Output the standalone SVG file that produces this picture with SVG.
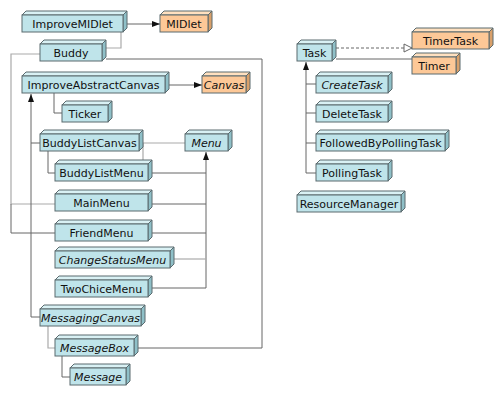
<svg xmlns="http://www.w3.org/2000/svg" width="500" height="400" viewBox="0 0 500 400">
<style>
.f{stroke:#5a6a6e;stroke-width:1}
.b .fr{fill:#bfe4ea}.b .tp{fill:#d9f1f4}.b .sd{fill:#8fc0c8}
.o .fr{fill:#fdc897}.o .tp{fill:#ffe0bf}.o .sd{fill:#d9a06a}
text{font-family:"DejaVu Sans","Liberation Sans",sans-serif;font-size:11px;fill:#111;text-anchor:middle}
.i{font-style:italic}
.c{fill:none;stroke:#666;stroke-width:1}
.g{fill:none;stroke:#aaa;stroke-width:1.2}
</style>
<defs>
<marker id="fa" viewBox="0 0 8 8" refX="8" refY="4" markerWidth="8" markerHeight="8" markerUnits="userSpaceOnUse" orient="auto"><path d="M0,1 L8,4 L0,7 Z" fill="#111"/></marker>
<marker id="ha" viewBox="0 0 10 10" refX="9" refY="5" markerWidth="10" markerHeight="10" markerUnits="userSpaceOnUse" orient="auto"><path d="M1,1 L9,5 L1,9 Z" fill="#fff" stroke="#666"/></marker>
</defs>
<g id="connectors">
<path class="g" d="M121,31 V48 H106"/>
<path class="g" d="M40,54 H11 V204 H55"/>
<path class="c" d="M11,204 V233 H55"/>
<path class="c" d="M106,59 H262 V348 H138"/>
<path class="c" d="M127,24 H160" marker-end="url(#fa)"/>
<path class="c" d="M169,85 H202" marker-end="url(#fa)"/>
<path class="c" d="M54,93 V113 H62"/>
<path class="c" d="M31,317 V94" marker-end="url(#fa)"/>
<path class="c" d="M31,143 H40 M31,317 H40"/>
<path class="g" d="M143,143 H185 M143,143 V163"/>
<path class="c" d="M48,151 V173 H55"/>
<path class="c" d="M206,288 V152" marker-end="url(#fa)"/>
<path class="c" d="M152,173 H206 M152,204 H206 M152,233 H206 M152,288 H206"/>
<path class="g" d="M174,259 H206"/>
<path class="g" d="M48,326 V348 H55"/>
<path class="c" d="M62,356 V377 H70"/>
<path class="c" d="M336,48 H412" stroke-dasharray="3,2" marker-end="url(#ha)"/>
<path class="c" d="M336,59 H412"/>
<path class="c" d="M306,173 V62" marker-end="url(#fa)"/>
<path class="c" d="M306,84 H316 M306,113 H316 M306,143 H316 M306,173 H316"/>
</g>
<g id="ImproveMIDlet" class="b"><path class="f tp" d="M22,15 L26,11 H127 L123,15 Z"/><path class="f sd" d="M123,15 L127,11 V28 L123,32 Z"/><rect class="f fr" x="22" y="15" width="101" height="17"/><text x="72.5" y="27.5">ImproveMIDlet</text></g>
<g id="MIDlet" class="o"><path class="f tp" d="M160,15 L164,11 H212 L208,15 Z"/><path class="f sd" d="M208,15 L212,11 V28 L208,32 Z"/><rect class="f fr" x="160" y="15" width="48" height="17"/><text x="184" y="27.5">MIDlet</text></g>
<g id="Buddy" class="b"><path class="f tp" d="M40,44 L44,40 H106 L102,44 Z"/><path class="f sd" d="M102,44 L106,40 V57 L102,61 Z"/><rect class="f fr" x="40" y="44" width="62" height="17"/><text x="71" y="56.5">Buddy</text></g>
<g id="ImproveAbstractCanvas" class="b"><path class="f tp" d="M22,76 L26,72 H169 L165,76 Z"/><path class="f sd" d="M165,76 L169,72 V89 L165,93 Z"/><rect class="f fr" x="22" y="76" width="143" height="17"/><text x="93.5" y="88.5">ImproveAbstractCanvas</text></g>
<g id="Canvas" class="o"><path class="f tp" d="M202,76 L206,72 H250 L246,76 Z"/><path class="f sd" d="M246,76 L250,72 V89 L246,93 Z"/><rect class="f fr" x="202" y="76" width="44" height="17"/><text class="i" x="224" y="88.5">Canvas</text></g>
<g id="Ticker" class="b"><path class="f tp" d="M62,105 L66,101 H112 L108,105 Z"/><path class="f sd" d="M108,105 L112,101 V118 L108,122 Z"/><rect class="f fr" x="62" y="105" width="46" height="17"/><text x="85" y="117.5">Ticker</text></g>
<g id="BuddyListCanvas" class="b"><path class="f tp" d="M40,134 L44,130 H143 L139,134 Z"/><path class="f sd" d="M139,134 L143,130 V147 L139,151 Z"/><rect class="f fr" x="40" y="134" width="99" height="17"/><text x="89.5" y="146.5">BuddyListCanvas</text></g>
<g id="Menu" class="b"><path class="f tp" d="M185,134 L189,130 H232 L228,134 Z"/><path class="f sd" d="M228,134 L232,130 V147 L228,151 Z"/><rect class="f fr" x="185" y="134" width="43" height="17"/><text class="i" x="206.5" y="146.5">Menu</text></g>
<g id="BuddyListMenu" class="b"><path class="f tp" d="M55,164 L59,160 H152 L148,164 Z"/><path class="f sd" d="M148,164 L152,160 V177 L148,181 Z"/><rect class="f fr" x="55" y="164" width="93" height="17"/><text x="101.5" y="176.5">BuddyListMenu</text></g>
<g id="MainMenu" class="b"><path class="f tp" d="M55,194 L59,190 H152 L148,194 Z"/><path class="f sd" d="M148,194 L152,190 V207 L148,211 Z"/><rect class="f fr" x="55" y="194" width="93" height="17"/><text x="101.5" y="206.5">MainMenu</text></g>
<g id="FriendMenu" class="b"><path class="f tp" d="M55,224 L59,220 H152 L148,224 Z"/><path class="f sd" d="M148,224 L152,220 V237 L148,241 Z"/><rect class="f fr" x="55" y="224" width="93" height="17"/><text x="101.5" y="236.5">FriendMenu</text></g>
<g id="ChangeStatusMenu" class="b"><path class="f tp" d="M55,251 L59,247 H174 L170,251 Z"/><path class="f sd" d="M170,251 L174,247 V264 L170,268 Z"/><rect class="f fr" x="55" y="251" width="115" height="17"/><text class="i" x="112.5" y="263.5">ChangeStatusMenu</text></g>
<g id="TwoChiceMenu" class="b"><path class="f tp" d="M55,280 L59,276 H152 L148,280 Z"/><path class="f sd" d="M148,280 L152,276 V293 L148,297 Z"/><rect class="f fr" x="55" y="280" width="93" height="17"/><text x="101.5" y="292.5">TwoChiceMenu</text></g>
<g id="MessagingCanvas" class="b"><path class="f tp" d="M40,309 L44,305 H145 L141,309 Z"/><path class="f sd" d="M141,309 L145,305 V322 L141,326 Z"/><rect class="f fr" x="40" y="309" width="101" height="17"/><text class="i" x="90.5" y="321.5">MessagingCanvas</text></g>
<g id="MessageBox" class="b"><path class="f tp" d="M55,339 L59,335 H138 L134,339 Z"/><path class="f sd" d="M134,339 L138,335 V352 L134,356 Z"/><rect class="f fr" x="55" y="339" width="79" height="17"/><text class="i" x="94.5" y="351.5">MessageBox</text></g>
<g id="Message" class="b"><path class="f tp" d="M70,368 L74,364 H130 L126,368 Z"/><path class="f sd" d="M126,368 L130,364 V381 L126,385 Z"/><rect class="f fr" x="70" y="368" width="56" height="17"/><text class="i" x="98" y="380.5">Message</text></g>
<g id="Task" class="b"><path class="f tp" d="M297,44 L301,40 H336 L332,44 Z"/><path class="f sd" d="M332,44 L336,40 V57 L332,61 Z"/><rect class="f fr" x="297" y="44" width="35" height="17"/><text x="314.5" y="56.5">Task</text></g>
<g id="TimerTask" class="o"><path class="f tp" d="M412,32 L416,28 H493 L489,32 Z"/><path class="f sd" d="M489,32 L493,28 V45 L489,49 Z"/><rect class="f fr" x="412" y="32" width="77" height="17"/><text x="450.5" y="44.5">TimerTask</text></g>
<g id="Timer" class="o"><path class="f tp" d="M412,57 L416,53 H460 L456,57 Z"/><path class="f sd" d="M456,57 L460,53 V70 L456,74 Z"/><rect class="f fr" x="412" y="57" width="44" height="17"/><text x="434" y="69.5">Timer</text></g>
<g id="CreateTask" class="b"><path class="f tp" d="M316,76 L320,72 H392 L388,76 Z"/><path class="f sd" d="M388,76 L392,72 V89 L388,93 Z"/><rect class="f fr" x="316" y="76" width="72" height="17"/><text class="i" x="352" y="88.5">CreateTask</text></g>
<g id="DeleteTask" class="b"><path class="f tp" d="M316,105 L320,101 H392 L388,105 Z"/><path class="f sd" d="M388,105 L392,101 V118 L388,122 Z"/><rect class="f fr" x="316" y="105" width="72" height="17"/><text x="352" y="117.5">DeleteTask</text></g>
<g id="FollowedByPollingTask" class="b"><path class="f tp" d="M316,134 L320,130 H449 L445,134 Z"/><path class="f sd" d="M445,134 L449,130 V147 L445,151 Z"/><rect class="f fr" x="316" y="134" width="129" height="17"/><text x="380.5" y="146.5">FollowedByPollingTask</text></g>
<g id="PollingTask" class="b"><path class="f tp" d="M316,164 L320,160 H392 L388,164 Z"/><path class="f sd" d="M388,164 L392,160 V177 L388,181 Z"/><rect class="f fr" x="316" y="164" width="72" height="17"/><text x="352" y="176.5">PollingTask</text></g>
<g id="ResourceManager" class="b"><path class="f tp" d="M297,195 L301,191 H405 L401,195 Z"/><path class="f sd" d="M401,195 L405,191 V208 L401,212 Z"/><rect class="f fr" x="297" y="195" width="104" height="17"/><text x="349" y="207.5">ResourceManager</text></g>
</svg>
